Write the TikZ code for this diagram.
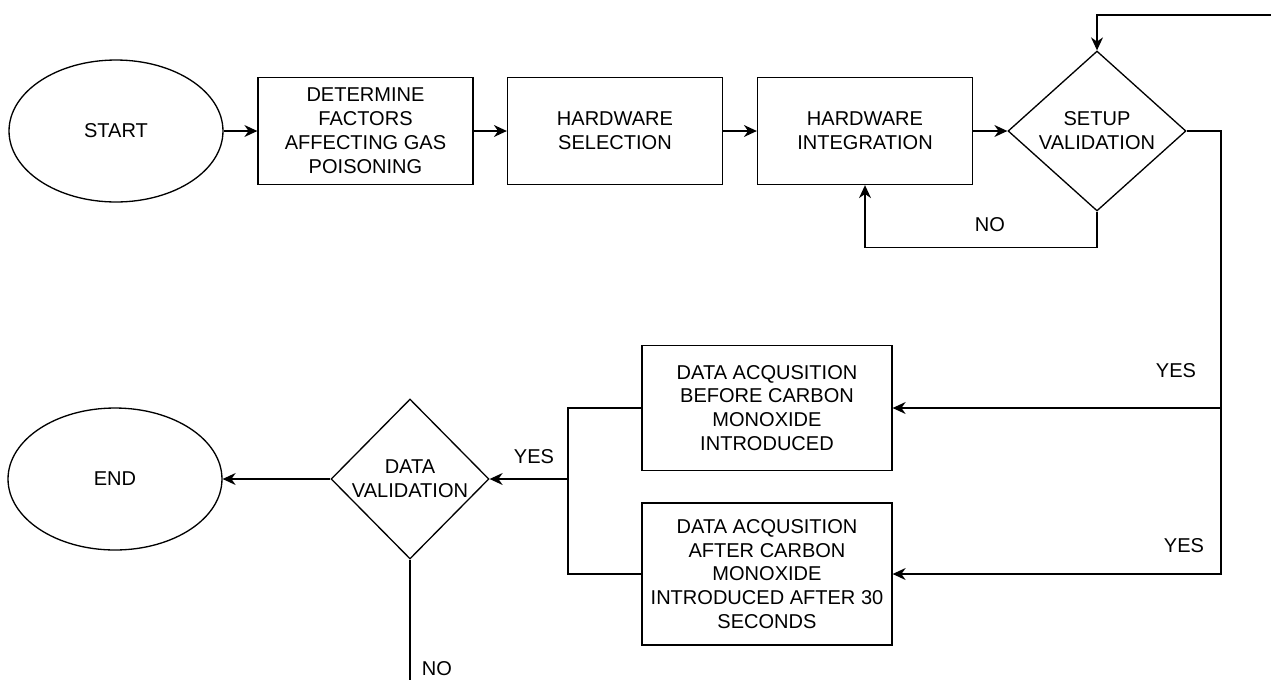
\documentclass[tikz,border=0pt]{standalone}
\usepackage{fontspec}
\setmainfont{Liberation Sans}
\usepackage{tikz}
\usetikzlibrary{arrows.meta,positioning,shapes.geometric,calc}

\begin{document}
\begin{tikzpicture}[x=0.02cm, y=-0.02cm,
    every node/.style={font=\fontsize{11.4}{13.6}\selectfont, align=center, inner sep=0pt},
    terminal/.style={draw, ellipse, line width=0.75pt, minimum width=4.28cm, minimum height=2.84cm},
    process/.style={draw, rectangle, line width=0.75pt, minimum width=4.3cm, minimum height=2.14cm},
    acqbox/.style={draw, rectangle, line width=0.75pt, minimum width=5cm},
    decision/.style={draw, diamond, line width=0.75pt, aspect=1},
    flow/.style={line width=0.75pt},
    arr/.style={flow, -{Stealth[length=2.6mm, width=2.4mm]}}]
  \useasboundingbox (0,0) rectangle (1271,680);
  % top row
  \node[terminal] (start) at (116,131) {START};
  \node[process] (factors) at (365.5,131) {DETERMINE\\FACTORS\\AFFECTING GAS\\POISONING};
  \node[process] (hwsel) at (615,131) {HARDWARE\\SELECTION};
  \node[process] (hwint) at (865,131) {HARDWARE\\INTEGRATION};
  \node[decision, minimum width=3.56cm, minimum height=3.2cm] (setup) at (1097,131) {SETUP\\VALIDATION};
  % acquisition boxes
  \node[acqbox, minimum height=2.5cm] (before) at (767,408) {DATA ACQUSITION\\BEFORE CARBON\\MONOXIDE\\INTRODUCED};
  \node[acqbox, minimum height=2.84cm] (after) at (767,574) {DATA ACQUSITION\\AFTER CARBON\\MONOXIDE\\INTRODUCED AFTER 30\\SECONDS};
  % bottom row
  \node[decision, minimum width=3.16cm, minimum height=3.2cm] (dataval) at (410,479) {DATA\\VALIDATION};
  \node[terminal] (finish) at (115,479) {END};
  \coordinate (loopin) at (1271,15);
  \coordinate (split) at (1221,408);
  \coordinate (join) at (568,479);
  \coordinate (noout) at (410,680);
  \draw[arr] (start) -- (factors);
  \draw[arr] (factors) -- (hwsel);
  \draw[arr] (hwsel) -- (hwint);
  \draw[arr] (hwint) -- (setup);
  \draw[arr] (setup.south) -- ++(0,36) -| (hwint.south);
  \draw[arr] (loopin) -| (setup.north);
  \draw[arr] (setup.east) -| (split) -- (before.east);
  \draw[arr] (split) |- (after.east);
  \draw[flow] (before.west) -| (join);
  \draw[flow] (after.west) -| (join);
  \draw[arr] (join) -- (dataval.east);
  \draw[arr] (dataval.west) -- (finish.east);
  \draw[flow] (dataval.south) -- (noout);
  % labels
  \node at (990,225) {NO};
  \node at (1176,371) {YES};
  \node at (1184,546) {YES};
  \node at (534,457) {YES};
  \node at (437,669) {NO};
\end{tikzpicture}
\end{document}
